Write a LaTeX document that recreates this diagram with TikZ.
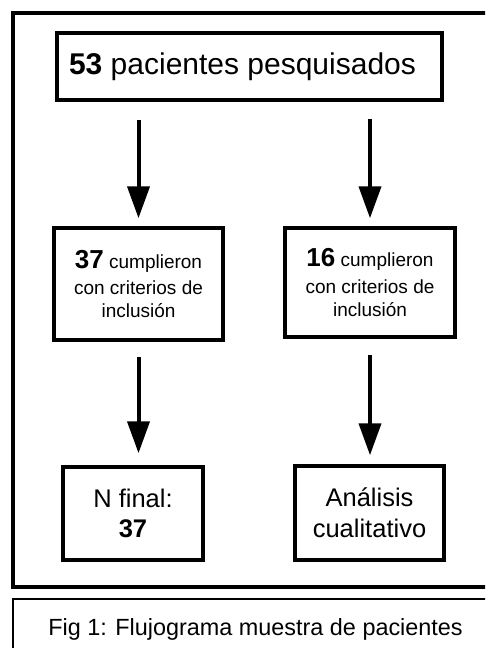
\documentclass[tikz,border=0pt]{standalone}
\usepackage{fontspec}
\setmainfont{Liberation Sans}
\usetikzlibrary{arrows.meta}
\begin{document}
\begin{tikzpicture}[x=1pt,y=-1pt,
  boxnode/.style={draw=black, line width=3.5pt, inner sep=0pt, text=black},
  flowarrow/.style={draw=black, line width=4pt, -{Triangle[width=22pt,length=32pt]}}]
\clip (0,0) rectangle (485,648);
\fill[white] (0,0) rectangle (485,648);
% outer frame and caption frame
\draw[line width=4pt] (13,13) rectangle (505,587);
\draw[line width=2pt] (13,599) rectangle (505,680);
% boxes
\node[boxnode, minimum width=385pt, minimum height=67pt, font=\fontsize{30}{35}\selectfont]
  (top) at (249.5,66.5) {\textbf{53} pacientes pesquisados\hspace*{14pt}};
\node[boxnode, align=center, minimum width=169pt, minimum height=112pt, font=\fontsize{19}{23}\selectfont]
  (m1) at (138.5,284) {{\fontsize{26}{26}\selectfont\textbf{37}} cumplieron\\[3.5pt]con criterios de\\inclusión};
\node[boxnode, align=center, minimum width=170pt, minimum height=109pt, font=\fontsize{19}{23}\selectfont]
  (m2) at (370,282.5) {{\fontsize{26}{26}\selectfont\textbf{16}} cumplieron\\[3.5pt]con criterios de\\inclusión};
\node[boxnode, align=center, minimum width=140pt, minimum height=93pt, font=\fontsize{25.5}{30}\selectfont]
  (b1) at (133,513.5) {N final:\\\textbf{37}};
\node[boxnode, align=center, minimum width=149pt, minimum height=94pt, font=\fontsize{25.5}{31}\selectfont]
  (b2) at (369.5,513) {Análisis\\cualitativo};
% caption
\node[anchor=base, inner sep=0pt, font=\fontsize{23.4}{28}\selectfont, text=black]
  (caption) at (255.5,635) {Fig 1: Flujograma muestra de pacientes};
% arrows
\draw[flowarrow, shorten <=18pt, shorten >=8pt] (m1.north |- top.south) -- (m1.north);
\draw[flowarrow, shorten <=17pt, shorten >=8pt] (m2.north |- top.south) -- (m2.north);
\draw[flowarrow, shorten <=15pt, shorten >=12pt] (m1.south) -- (b1.north -| m1.south);
\draw[flowarrow, shorten <=16pt, shorten >=9pt] (m2.south) -- (b2.north -| m2.south);
\end{tikzpicture}
\end{document}
